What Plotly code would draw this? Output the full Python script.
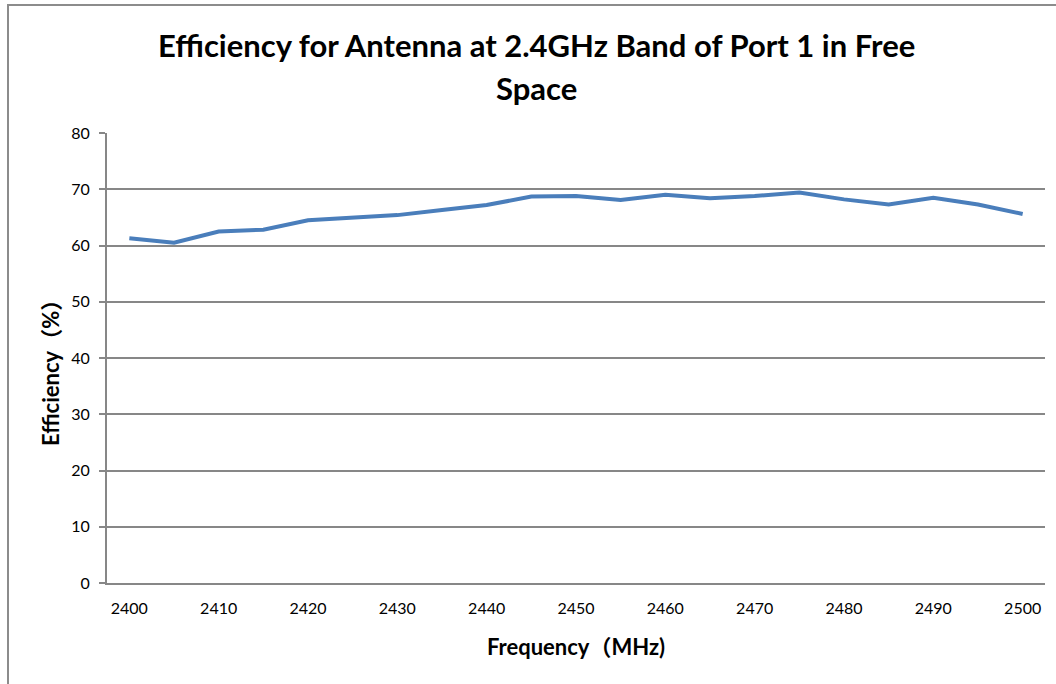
import plotly.graph_objects as go

frequency_mhz = [2400, 2405, 2410, 2415, 2420, 2425, 2430, 2435, 2440, 2445, 2450,
                 2455, 2460, 2465, 2470, 2475, 2480, 2485, 2490, 2495, 2500]
efficiency_pct = [61.3, 60.5, 62.5, 62.8, 64.5, 64.9, 65.4, 66.3, 67.2, 68.7, 68.8,
                  68.1, 69.0, 68.4, 68.8, 69.4, 68.2, 67.3, 68.5, 67.3, 65.6]
x_ticks = [2400, 2410, 2420, 2430, 2440, 2450, 2460, 2470, 2480, 2490, 2500]
y_ticks = [0, 10, 20, 30, 40, 50, 60, 70, 80]
title_lines = ["Efficiency for Antenna at 2.4GHz Band of Port 1 in Free", "Space"]

FONT = "Lato, 'Noto Sans CJK SC', sans-serif"
GRID = "#878787"

L, R, T, B = 107, 11, 133, 101
PW, PH = 1056 - L - R, 684 - T - B


def px_x(px):
    return (px - L) / PW


def px_y(py):
    return 1 + (T - py) / PH


fig = go.Figure()
fig.add_trace(go.Scatter(
    x=frequency_mhz, y=efficiency_pct, mode="lines",
    line=dict(color="#4a7ebb", width=4), showlegend=False,
))

annotations = []
for text, cy in zip(title_lines, [45, 88]):
    annotations.append(dict(
        text=f"<b>{text}</b>", xref="paper", yref="paper",
        x=px_x(536), y=px_y(cy), xanchor="center", yanchor="middle",
        showarrow=False, font=dict(family=FONT, size=31, color="#000000"),
    ))
annotations.append(dict(
    text="<b>Frequency（MHz)</b>", xref="paper", yref="paper",
    x=px_x(576), y=px_y(646), xanchor="center", yanchor="middle",
    showarrow=False, font=dict(family=FONT, size=22, color="#000000"),
))
annotations.append(dict(
    text="<b>Efficiency（%）</b>", xref="paper", yref="paper",
    x=px_x(50), y=px_y(368), xanchor="center", yanchor="middle", textangle=-90,
    showarrow=False, font=dict(family=FONT, size=22, color="#000000"),
))

fig.update_layout(
    width=1056, height=684,
    margin=dict(l=L, r=R, t=T, b=B, autoexpand=False),
    paper_bgcolor="white", plot_bgcolor="white",
    font=dict(family=FONT, color="#000000", size=16),
    xaxis=dict(
        range=[2397.5, 2502.5], tickvals=x_ticks, ticktext=[str(v) for v in x_ticks],
        showgrid=False, zeroline=False, showline=True, linecolor=GRID, linewidth=2,
        ticks="", ticklabelstandoff=10, automargin=False,
        tickfont=dict(family=FONT, size=16),
    ),
    yaxis=dict(
        range=[0, 80], tickvals=y_ticks, automargin=False,
        showgrid=True, gridcolor=GRID, gridwidth=1.5, zeroline=False,
        showline=True, linecolor=GRID, linewidth=2,
        ticks="outside", ticklen=6, tickcolor=GRID, tickwidth=1.5,
        ticklabelstandoff=6,
        tickfont=dict(family=FONT, size=16),
    ),
    annotations=annotations,
    shapes=[dict(type="rect", xref="paper", yref="paper",
                 x0=px_x(8), x1=1.2, y0=-0.5, y1=px_y(5),
                 line=dict(color="#8c8c8c", width=2), fillcolor="rgba(0,0,0,0)", layer="below")],
)

fig.write_html(
    "out.html",
    config={"displayModeBar": False},
    post_script="document.body.style.margin='0';document.body.style.overflow='hidden';",
)
